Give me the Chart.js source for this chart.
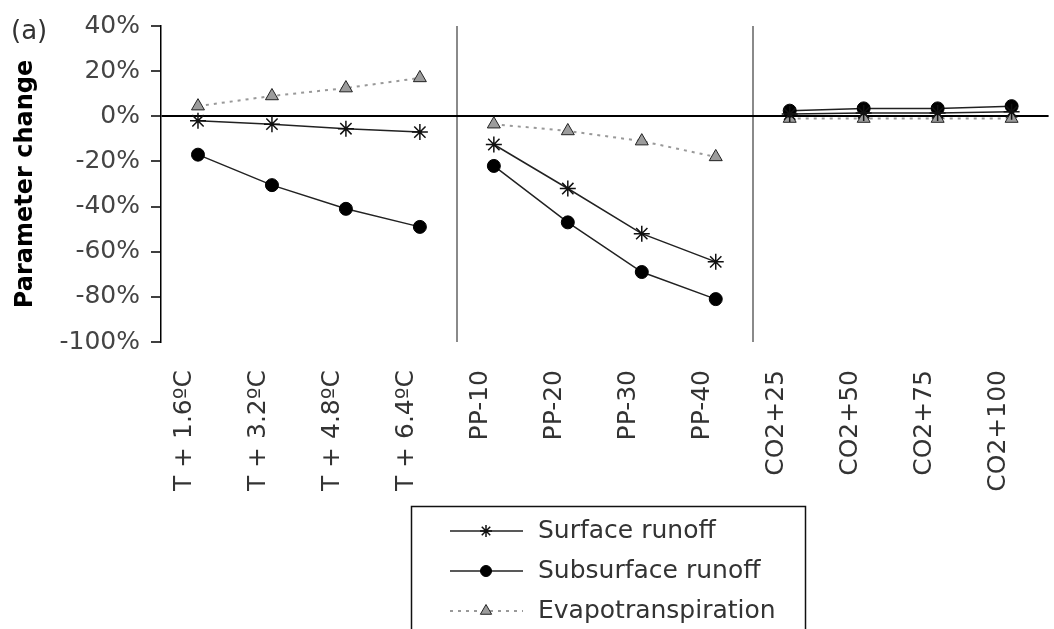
<!DOCTYPE html>
<html><head><meta charset="utf-8">
<script src="https://cdn.jsdelivr.net/npm/chart.js@4"></script>
<style>
html,body{margin:0;padding:0;background:#fff;overflow:hidden;width:1054px;height:629px;}
#wrap{position:relative;width:1070px;height:629px;}
#tag{position:absolute;left:11px;top:15px;font:26px "DejaVu Sans",sans-serif;color:#333;}
</style></head><body>
<div id="wrap"><canvas id="c" width="1070" height="629"></canvas><div id="tag">(a)</div></div>
<script>
const categories = ['T + 1.6ºC','T + 3.2ºC','T + 4.8ºC','T + 6.4ºC','PP-10','PP-20','PP-30','PP-40','CO2+25','CO2+50','CO2+75','CO2+100'];
const surfaceRunoff    = [-2, -3.5, -5.5, -7, -12.5, -32, -52, -64.5, 1, 1.5, 1.5, 2];
const subsurfaceRunoff = [-17, -30.5, -41, -49, -22, -47, -69, -81, 2.5, 3.5, 3.5, 4.5];
const evapotranspiration = [4.5, 9, 12.5, 17, -3.5, -6.5, -11, -18, -1, -1, -1, -1];
const yTickValues = [40, 20, 0, -20, -40, -60, -80, -100];
const groupBreaks = [4, 8];

const gapSegment = {
  borderColor: (c) => groupBreaks.includes(c.p1DataIndex) ? 'rgba(0,0,0,0)' : undefined
};

const boxLegend = {
  id: 'boxLegend',
  afterDraw(chart) {
    const ctx = chart.ctx;
    ctx.save();
    ctx.strokeStyle = '#111';
    ctx.lineWidth = 1.5;
    ctx.strokeRect(411.5, 506.5, 394, 140);
    chart.data.datasets.forEach((ds, i) => {
      const y = 531 + i * 40;
      ctx.setLineDash(ds.borderDash || []);
      ctx.strokeStyle = ds.borderColor;
      ctx.lineWidth = ds.borderWidth;
      ctx.beginPath(); ctx.moveTo(450, y); ctx.lineTo(523, y); ctx.stroke();
      ctx.setLineDash([]);
      ctx.fillStyle = ds.pointBackgroundColor;
      ctx.strokeStyle = ds.pointBorderColor;
      ctx.lineWidth = ds.pointBorderWidth;
      Chart.helpers.drawPoint(ctx, {pointStyle: ds.pointStyle, radius: ds.legendRadius, borderWidth: ds.pointBorderWidth, rotation: 0}, 486, y);
      ctx.fillStyle = '#333';
      ctx.font = '25px "DejaVu Sans", sans-serif';
      ctx.textBaseline = 'middle';
      ctx.textAlign = 'left';
      ctx.fillText(ds.label, 538, y);
    });
    ctx.restore();
  }
};

new Chart(document.getElementById('c'), {
  type: 'line',
  data: {
    labels: categories,
    datasets: [
      { label: 'Surface runoff', data: surfaceRunoff, borderColor: '#222', borderWidth: 1.5, segment: gapSegment,
        pointStyle: 'star', pointRadius: 8, pointBorderColor: '#111', pointBackgroundColor: '#111', pointBorderWidth: 1.5, legendRadius: 6 },
      { label: 'Subsurface runoff', data: subsurfaceRunoff, borderColor: '#222', borderWidth: 1.5, segment: gapSegment,
        pointStyle: 'circle', pointRadius: 6.5, pointBorderColor: '#000', pointBackgroundColor: '#000', pointBorderWidth: 1, legendRadius: 5.5 },
      { label: 'Evapotranspiration', data: evapotranspiration, borderColor: '#999', borderWidth: 2, borderDash: [3, 5], segment: gapSegment,
        pointStyle: 'triangle', pointRadius: 7.5, pointBorderColor: '#222', pointBackgroundColor: '#9c9c9c', pointBorderWidth: 1, legendRadius: 6.5 }
    ]
  },
  options: {
    responsive: false,
    animation: false,
    layout: { padding: { top: 24, right: 9, left: 0, bottom: 0 } },
    plugins: { legend: { display: false }, tooltip: { enabled: false } },
    elements: { line: { tension: 0, fill: false } },
    scales: {
      x: {
        type: 'category',
        offset: true,
        border: { display: false },
        grid: {
          offset: true, drawTicks: false, lineWidth: 2,
          color: (c) => groupBreaks.includes(c.index) ? '#8a8a8a' : 'rgba(0,0,0,0)'
        },
        ticks: {
          autoSkip: false, minRotation: 90, maxRotation: 90, padding: 28, labelOffset: -13,
          color: '#333', font: { family: 'DejaVu Sans', size: 25 }
        },
        afterFit: (s) => { s.height = 287; }
      },
      y: {
        min: -100, max: 40,
        afterBuildTicks: (s) => { s.ticks = yTickValues.map(v => ({ value: v })); },
        border: { color: '#000', width: 1.5 },
        grid: {
          tickLength: 10, tickColor: '#000', tickWidth: 1.5, lineWidth: 2,
          color: (c) => (c.tick && c.tick.value === 0) ? '#000' : 'rgba(0,0,0,0)'
        },
        ticks: {
          padding: 11, color: '#444', font: { family: 'DejaVu Sans', size: 25 },
          callback: (v) => v + '%'
        },
        title: {
          display: true, text: 'Parameter change', color: '#000',
          font: { family: 'DejaVu Sans', size: 24, weight: 'bold' },
          padding: { top: 11, bottom: 0 }
        },
        afterFit: (s) => { s.width = 161; }
      }
    }
  },
  plugins: [boxLegend]
});
</script>
</body></html>
